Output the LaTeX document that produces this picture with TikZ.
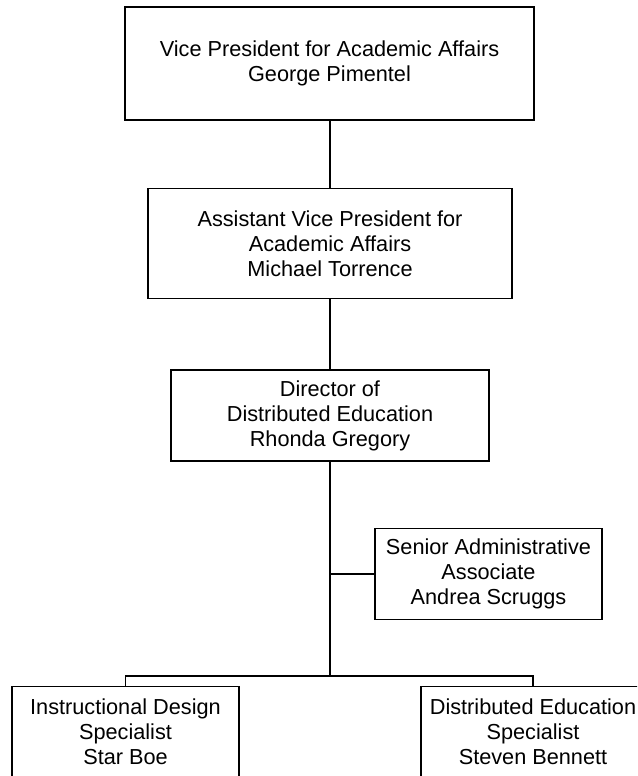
\documentclass[tikz,border=0pt]{standalone}
\usepackage{fontspec}
\setmainfont{Liberation Sans}
\begin{document}
\begin{tikzpicture}[x=1pt,y=-1pt,
  orgbox/.style={draw=black,line width=1.6pt,align=center,inner sep=0pt,
    font=\fontsize{21.7}{25}\selectfont},
  conn/.style={draw=black,line width=1.6pt}]
\useasboundingbox (0,0) rectangle (637,776);
\clip (0,0) rectangle (637,776);
\node[orgbox,minimum width=409pt,minimum height=113pt] (vp) at (329.5,63.5)
  {Vice President for Academic Affairs\\George Pimentel};
\node[orgbox,minimum width=364pt,minimum height=110pt] (avp) at (330,243.5)
  {Assistant Vice President for\\Academic Affairs\\Michael Torrence};
\node[orgbox,minimum width=318pt,minimum height=91pt] (dir) at (330,415.5)
  {Director of\\Distributed Education\\Rhonda Gregory};
\node[orgbox,minimum width=227pt,minimum height=91pt] (sen) at (488.5,574)
  {Senior Administrative\\Associate\\Andrea Scruggs};
\node[orgbox,minimum width=227pt,minimum height=91pt] (ids) at (125.5,732)
  {Instructional Design\\Specialist\\Star Boe};
\node[orgbox,minimum width=224pt,minimum height=91pt] (des) at (533,732)
  {Distributed Education\\Specialist\\Steven Bennett};
\coordinate (bar) at (330,676);
\draw[conn] (avp.north |- vp.south) -- (avp.north);
\draw[conn] (avp.south) -- (dir.north);
\draw[conn] (dir.south) -- (dir.south |- bar);
\draw[conn] (dir.south |- sen.west) -- (sen.west);
\draw[conn] (ids.north) -- (ids.north |- bar) -- (des.north |- bar) -- (des.north);
\end{tikzpicture}
\end{document}
